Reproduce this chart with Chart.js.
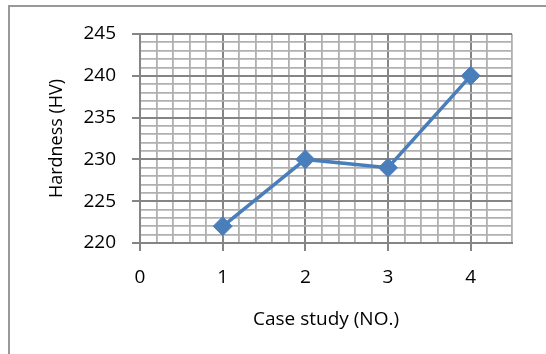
<!DOCTYPE html>
<html>
<head>
<meta charset="utf-8">
<script src="https://cdn.jsdelivr.net/npm/chart.js@4"></script>
<style>
  html, body { margin: 0; padding: 0; background: #fff; }
  canvas { display: block; }
</style>
</head>
<body>
<canvas id="grafico" width="546" height="354"></canvas>
<script>
// values
const caseStudy = [1, 2, 3, 4];
const hardness = [222, 230, 229, 240];
const xLabels = ["0", "1", "2", "3", "4"];
const yLabels = ["220", "225", "230", "235", "240", "245"];

const azul = "#4a7ebb";
const major = "#858585";
const minor = "#b0b0b0";

function isWhole(v, step) {
  const r = v / step;
  return Math.abs(r - Math.round(r)) < 1e-6;
}

// outer frame like the one round the excel chart
const marco = {
  id: "marco",
  beforeDraw(chart) {
    const c = chart.ctx;
    c.save();
    c.strokeStyle = "#999999";
    c.lineWidth = 2;
    c.strokeRect(9, 6, 700, 500);
    c.restore();
  }
};

var ctx = document.getElementById("grafico").getContext("2d");

const chart = new Chart(ctx, {
  type: "scatter",
  data: {
    datasets: [{
      label: "Hardness",
      data: caseStudy.map((x, i) => ({ x: x, y: hardness[i] })),
      showLine: true,
      borderColor: azul,
      backgroundColor: azul,
      borderWidth: 3.5,
      pointStyle: "rectRot",
      pointRadius: 9.5,
      pointHoverRadius: 9.5,
      pointBorderWidth: 1
    }]
  },
  options: {
    responsive: false,
    animation: false,
    layout: { padding: { left: 40, top: 34, right: 34, bottom: 11 } },
    plugins: { legend: { display: false }, tooltip: { enabled: false } },
    scales: {
      x: {
        type: "linear",
        min: 0,
        max: 4.5,
        afterFit: (s) => { s.height = 100; },
        border: { color: major, width: 2 },
        grid: {
          color: (c) => isWhole(c.tick.value, 1) ? major : minor,
          lineWidth: (c) => isWhole(c.tick.value, 1) ? 2 : 1.8,
          tickColor: (c) => isWhole(c.tick.value, 1) ? major : "rgba(0,0,0,0)",
          tickLength: 8
        },
        ticks: {
          stepSize: 0.2,
          maxTicksLimit: 100,
          autoSkip: false,
          maxRotation: 0,
          padding: 15,
          color: "#000",
          font: { family: "'Open Sans'", size: 19 },
          callback: (v) => isWhole(v, 1) ? xLabels[Math.round(v)] : ""
        },
        title: {
          display: true,
          text: "Case study (NO.)",
          color: "#000",
          font: { family: "'Open Sans'", size: 19 },
          padding: { top: 0, bottom: 12 }
        }
      },
      y: {
        min: 220,
        max: 245,
        afterFit: (s) => { s.width = 100; },
        border: { color: major, width: 2 },
        grid: {
          color: (c) => isWhole(c.tick.value, 5) ? major : minor,
          lineWidth: (c) => isWhole(c.tick.value, 5) ? 2 : 1.8,
          tickColor: (c) => isWhole(c.tick.value, 5) ? major : "rgba(0,0,0,0)",
          tickLength: 8
        },
        ticks: {
          stepSize: 1,
          maxTicksLimit: 100,
          autoSkip: false,
          padding: 16,
          color: "#000",
          font: { family: "'Open Sans'", size: 19 },
          callback: (v) => isWhole(v, 5) ? yLabels[Math.round((v - 220) / 5)] : ""
        },
        title: {
          display: true,
          text: "Hardness (HV)",
          color: "#000",
          font: { family: "'Open Sans'", size: 18 },
          padding: { top: 6, bottom: 0 }
        }
      }
    }
  },
  plugins: [marco]
});
</script>
</body>
</html>
